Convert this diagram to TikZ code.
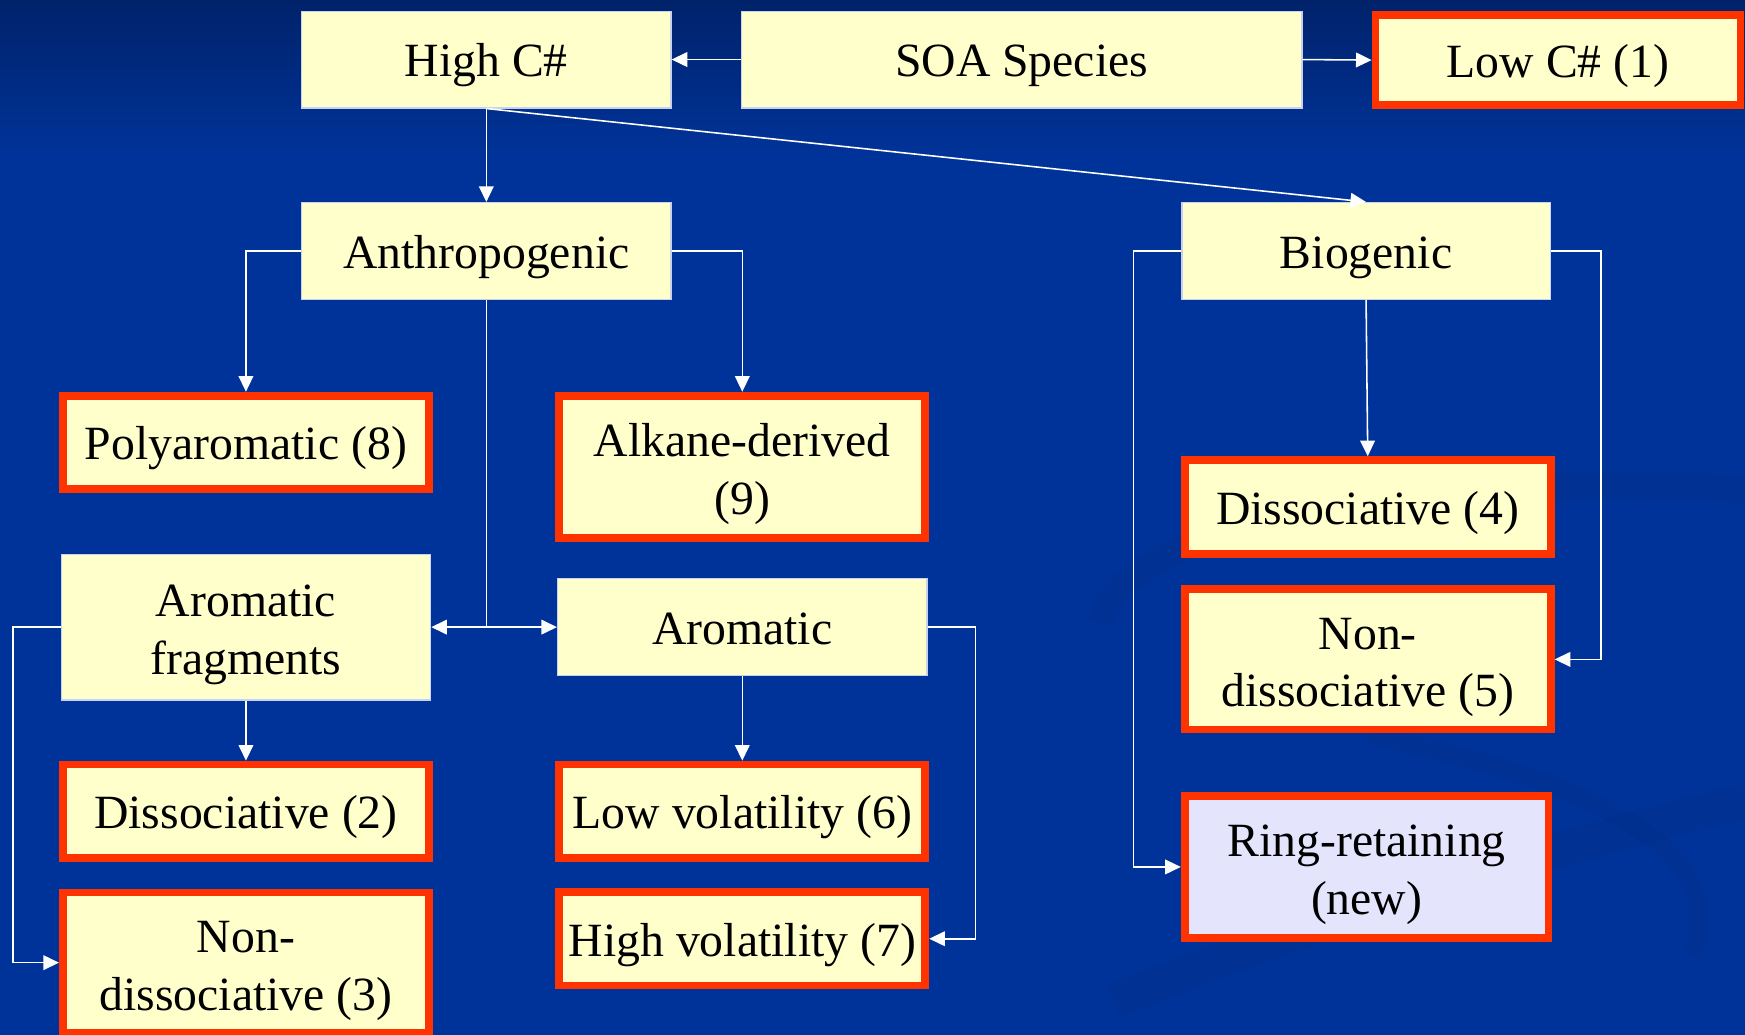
\documentclass[tikz,border=0pt]{standalone}
\usepackage{fontspec}
\setmainfont{Liberation Serif}
\usepackage{tikz}
\usetikzlibrary{arrows.meta}

\definecolor{slideblue}{HTML}{003399}
\definecolor{slidetop}{HTML}{00226A}
\definecolor{swoosh}{HTML}{002F88}
\definecolor{boxyellow}{HTML}{FFFFCC}
\definecolor{boxedge}{HTML}{C8D2F0}
\definecolor{keyred}{HTML}{FF3300}
\definecolor{newlilac}{HTML}{E4E4FC}

% strut that drops the first line of a two-line box a little
\newcommand{\topstrut}{\rule{0pt}{25pt}}

\tikzset{
    every node/.style={font=\fontsize{24.4}{29.6}\selectfont, align=center, inner sep=0pt,
        execute at begin node={\rule{0pt}{23.8pt}},
        execute at end node={\rule[-6pt]{0pt}{6pt}}},
    plainbox/.style={fill=boxyellow, draw=boxedge, line width=0.6pt,
        minimum width=6.64cm, minimum height=1.74cm},
    keybox/.style={fill=boxyellow, draw=keyred, line width=4pt,
        minimum width=6.58cm, minimum height=1.68cm},
    flow/.style={draw=white, line width=0.8pt, -{Triangle[length=8pt, width=7.5pt]}},
    link/.style={draw=white, line width=0.8pt}
}

\begin{document}
\begin{tikzpicture}[x=0.02cm, y=-0.02cm]
    % Background
    \fill[slideblue] (0,0) rectangle (1568,930);
    \shade[top color=slidetop, bottom color=slideblue] (0,0) rectangle (1568,140);
    \useasboundingbox (0,0) rectangle (1568,930);

    % Swooshes
    \draw[swoosh, line width=14pt, opacity=0.35] (990,560) .. controls (1000,470) and (1300,420) .. (1568,440);
    \draw[swoosh, line width=18pt, opacity=0.35] (1000,900) .. controls (1200,820) and (1400,760) .. (1568,720);
    \draw[swoosh, line width=10pt, opacity=0.3] (1230,660) .. controls (1420,700) and (1560,760) .. (1520,860);

    % Top row
    \node[plainbox] (high) at (437,53.5) {High C\#};
    \node[plainbox, minimum width=10.08cm] (soa) at (918,53.5) {SOA Species};
    \node[keybox, minimum width=6.56cm, minimum height=1.62cm] (low) at (1400,54) {Low C\# (1)};

    % Second row
    \node[plainbox] (anthro) at (437,225.5) {Anthropogenic};
    \node[plainbox, minimum width=6.62cm] (bio) at (1227.5,225.5) {Biogenic};

    % Anthropogenic branch
    \node[keybox] (poly) at (221,397.5) {Polyaromatic (8)};
    \node[keybox, minimum height=2.56cm] (alkane) at (667,419.5) {\topstrut Alkane-derived\\(9)};
    \node[plainbox, minimum height=2.62cm] (arfrag) at (221,563.5) {\topstrut Aromatic\\fragments};
    \node[plainbox] (arom) at (667,563.5) {Aromatic};
    \node[keybox] (diss2) at (221,729) {Dissociative (2)};
    \node[keybox, minimum height=2.52cm] (nondiss3) at (221,865) {\topstrut Non-\\dissociative (3)};
    \node[keybox] (lowvol) at (667,729) {Low volatility (6)};
    \node[keybox] (highvol) at (667,843.5) {High volatility (7)};

    % Biogenic branch
    \node[keybox] (diss4) at (1229,455.5) {Dissociative (4)};
    \node[keybox, minimum height=2.52cm] (nondiss5) at (1229,592.5) {\topstrut Non-\\dissociative (5)};
    \node[keybox, fill=newlilac, minimum width=6.54cm, minimum height=2.54cm] (ring) at (1228,779) {\topstrut Ring-retaining\\(new)};

    % Connectors
    \draw[flow] (soa.west) -- (high.east);
    \draw[flow] (soa.east) -- (low.west);
    \draw[flow] (high.south) -- (anthro.north);
    \draw[flow] (high.south) -- (bio.north);

    \draw[flow] (anthro.west) -| (poly.north);
    \draw[flow] (anthro.east) -| (alkane.north);
    \coordinate (split) at (anthro.south |- arom.west);
    \draw[link] (anthro.south) -- (split);
    \draw[flow] (split) -- (arfrag.east);
    \draw[flow] (split) -- (arom.west);

    \draw[flow] (arfrag.south) -- (diss2.north);
    \draw[flow] (arfrag.west) -- ++(-43,0) |- (nondiss3.west);
    \draw[flow] (arom.south) -- (lowvol.north);
    \draw[flow] (arom.east) -- ++(43,0) |- (highvol.east);

    \draw[flow] (bio.south) -- (diss4.north);
    \draw[flow] (bio.east) -- ++(45,0) |- (nondiss5.east);
    \draw[flow] (bio.west) -- ++(-43,0) |- (ring.west);
\end{tikzpicture}
\end{document}
